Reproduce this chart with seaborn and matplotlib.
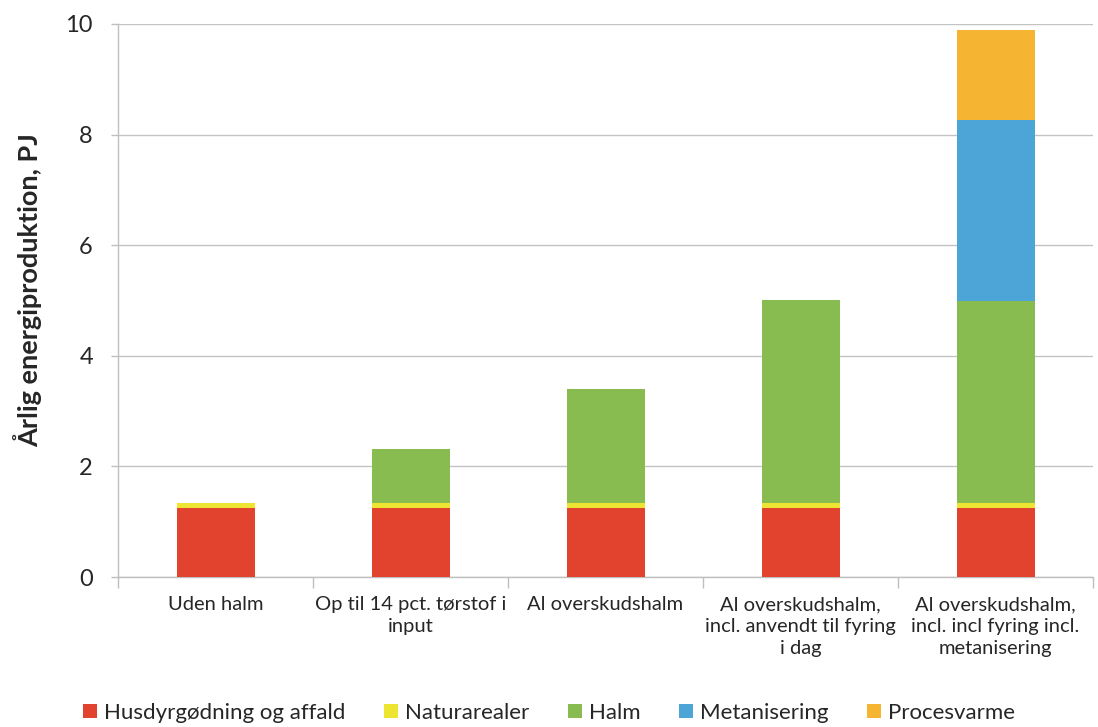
import matplotlib
matplotlib.use("Agg")
import matplotlib.pyplot as plt
from matplotlib.patches import Patch
import seaborn as sns
import pandas as pd
import numpy as np

# Scenarios and annual energy production per source (PJ)
scenarios = [
    "Uden halm",
    "Op til 14 pct. tørstof i\ninput",
    "Al overskudshalm",
    "Al overskudshalm,\nincl. anvendt til fyring\ni dag",
    "Al overskudshalm,\nincl. incl fyring incl.\nmetanisering",
]
series_names = ["Husdyrgødning og affald", "Naturarealer", "Halm", "Metanisering", "Procesvarme"]
husdyr = [1.25, 1.25, 1.25, 1.25, 1.25]
natur = [0.08, 0.08, 0.08, 0.08, 0.08]
halm = [0.0, 0.98, 2.07, 3.68, 3.67]
metan = [0.0, 0.0, 0.0, 0.0, 3.26]
proces = [0.0, 0.0, 0.0, 0.0, 1.63]
yticks = [0, 2, 4, 6, 8, 10]

colors = ["#E2432E", "#EEE533", "#88BC50", "#4DA4D6", "#F5B533"]

sns.set_theme(style="white")
plt.rcParams["font.family"] = ["Lato", "DejaVu Sans"]

df = pd.DataFrame({
    "scenario": scenarios,
    series_names[0]: husdyr,
    series_names[1]: natur,
    series_names[2]: halm,
    series_names[3]: metan,
    series_names[4]: proces,
})

fig = plt.figure(figsize=(10.98, 7.27), dpi=100)
ax = fig.add_axes([118 / 1098, 1 - 577 / 727, (1093 - 118) / 1098, (577 - 24) / 727])

bottom = np.zeros(len(scenarios))
for name, col in zip(series_names, colors):
    sns.barplot(data=df, x="scenario", y=name, color=col, width=0.4,
                bottom=bottom, ax=ax, saturation=1, zorder=3, linewidth=0)
    bottom = bottom + df[name].to_numpy()

ax.set_ylim(0, 10)
ax.set_xlim(-0.5, len(scenarios) - 0.5)
ax.set_yticks(yticks)
ax.set_yticklabels([str(v) for v in yticks], fontsize=17, color="#262626")
ax.yaxis.grid(True, color="#C3C3C3", linewidth=1, zorder=0)
ax.set_axisbelow(True)

# Category labels; ticks sit on the boundaries between categories
ax.set_xticks(range(len(scenarios)))
ax.set_xticklabels(scenarios, fontsize=14.5, color="#262626", linespacing=1.35)
ax.set_xticks(np.arange(-0.5, len(scenarios)), minor=True)
ax.tick_params(axis="x", which="major", length=0, pad=14)
ax.tick_params(axis="x", which="minor", length=8, width=1, color="#BFBFBF", bottom=True)
ax.tick_params(axis="y", length=5, width=1, color="#BFBFBF", left=True, pad=13)

for s in ["top", "right"]:
    ax.spines[s].set_visible(False)
for s in ["left", "bottom"]:
    ax.spines[s].set_color("#BFBFBF")
    ax.spines[s].set_linewidth(1)

ax.set_xlabel("")
ax.set_ylabel("")
fig.text(28 / 1098, 1 - 290 / 727, "Årlig energiproduktion, PJ", rotation=90,
         ha="center", va="center", fontsize=19.5, fontweight="bold", color="#262626")

handles = [Patch(facecolor=c, edgecolor="none") for c in colors]
fig.legend(handles, series_names, loc="center", bbox_to_anchor=(0.5, 1 - 713 / 727),
           ncol=5, frameon=False, fontsize=16, handlelength=0.63, handleheight=0.63,
           handletextpad=0.3, columnspacing=1.75)

fig.savefig("out.png", dpi=100)
